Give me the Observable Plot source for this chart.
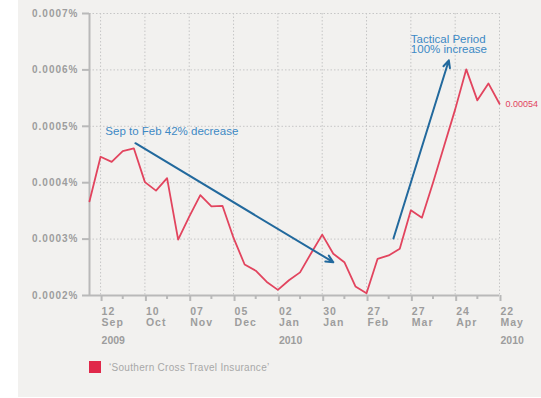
<!DOCTYPE html>
<html>
<head>
<meta charset="utf-8">
<script src="https://cdn.jsdelivr.net/npm/d3@7"></script>
<script src="https://cdn.jsdelivr.net/npm/@observablehq/plot@0.6"></script>
<style>
  html, body { margin: 0; padding: 0; background: #fff; }
  #wrap { position: relative; width: 541px; height: 398px; overflow: hidden; background: #fff; }
  #panel { position: absolute; left: 18px; top: 0; width: 523px; height: 397px; background: #f2f1ef; }
  #chart { position: absolute; left: 0; top: 0; }
  #legend { position: absolute; left: 89px; top: 361px; display: flex; align-items: center;
            font-family: "Liberation Sans", Arial, sans-serif; font-size: 10px; color: #a8a8a8; letter-spacing: 0.3px; }
  #legend .swatch { width: 12px; height: 12px; background: #e0284a; margin-right: 8px; }
</style>
</head>
<body>
<div id="wrap">
  <div id="panel"></div>
  <div id="chart"></div>
  <div id="legend"><span class="swatch"></span><span>‘Southern Cross Travel Insurance’</span></div>
</div>
<script>
// Weekly share (%) for Southern Cross Travel Insurance, Sep 2009 – May 2010
const weeks = [
  "2009-09-05", "2009-09-12", "2009-09-19", "2009-09-26",
  "2009-10-03", "2009-10-10", "2009-10-17", "2009-10-24", "2009-10-31",
  "2009-11-07", "2009-11-14", "2009-11-21", "2009-11-28",
  "2009-12-05", "2009-12-12", "2009-12-19", "2009-12-26",
  "2010-01-02", "2010-01-09", "2010-01-16", "2010-01-23", "2010-01-30",
  "2010-02-06", "2010-02-13", "2010-02-20", "2010-02-27",
  "2010-03-06", "2010-03-13", "2010-03-20", "2010-03-27",
  "2010-04-03", "2010-04-10", "2010-04-17", "2010-04-24",
  "2010-05-01", "2010-05-08", "2010-05-15", "2010-05-22"
];
const share = [
  0.000367, 0.000446, 0.000437, 0.000456,
  0.000461, 0.000401, 0.000386, 0.000408, 0.000299,
  0.000340, 0.000378, 0.000358, 0.000359,
  0.000302, 0.000255, 0.000244, 0.000224,
  0.000210, 0.000227, 0.000241, 0.000275, 0.000308,
  0.000274, 0.000259, 0.000216, 0.000204,
  0.000265, 0.000271, 0.000283, 0.000351,
  0.000338, 0.000400, 0.000465, 0.000530,
  0.000601, 0.000546, 0.000576, 0.00054
];

// Axis ticks
const xDomain = ["2009-09-05", "2010-05-22"];
const majorTicks = ["2009-09-12", "2009-10-10", "2009-11-07", "2009-12-05", "2010-01-02",
                    "2010-01-30", "2010-02-27", "2010-03-27", "2010-04-24", "2010-05-22"];
const minorTicks = ["2009-09-26", "2009-10-24", "2009-11-21", "2009-12-19", "2010-01-16",
                    "2010-02-13", "2010-03-13", "2010-04-10", "2010-05-08"];
const yTicks = [0.0002, 0.0003, 0.0004, 0.0005, 0.0006, 0.0007];
const yearLabels = ["2009", "2010", "2010"];
const yearDates = ["2009-09-12", "2010-01-02", "2010-05-22"];

// Annotations
const noteTexts = ["Sep to Feb 42% decrease", "Tactical Period\n100% increase"];
const noteDates = ["2009-09-15", "2010-03-27"];
const noteValues = [0.000491, 0.000645];
const arrowStartDates = ["2009-10-04", "2010-03-16"];
const arrowStartValues = [0.00047, 0.000301];
const arrowEndDates = ["2010-02-06", "2010-04-20"];
const arrowEndValues = [0.000259, 0.000617];

const parse = d3.utcParse("%Y-%m-%d");
const series = weeks.map((w, i) => ({date: parse(w), value: share[i]}));
const notes = noteTexts.map((t, i) => ({text: t, date: parse(noteDates[i]), value: noteValues[i]}));
const arrows = arrowStartDates.map((d, i) => ({
  x1: parse(d), y1: arrowStartValues[i], x2: parse(arrowEndDates[i]), y2: arrowEndValues[i]
}));
const years = yearLabels.map((t, i) => ({text: t, date: parse(yearDates[i])}));
const majors = majorTicks.map(parse);
const minors = minorTicks.map(parse);
const last = series[series.length - 1];

const lineRed = "#e2445e";
const axisGray = "#b9b9b9";
const labelGray = "#9d9d9d";
const gridGray = "#c6c6c6";
const fmtDay = d3.utcFormat("%d");
const fmtMon = d3.utcFormat("%b");

const chart = Plot.plot({
  width: 541,
  height: 352,
  marginLeft: 89,
  marginRight: 42,
  marginTop: 13,
  marginBottom: 57,
  style: {background: "transparent", fontFamily: "'Liberation Sans', Arial, sans-serif"},
  x: {type: "utc", domain: xDomain.map(parse)},
  y: {domain: [0.0002, 0.0007]},
  marks: [
    Plot.gridY(yTicks.slice(1), {stroke: gridGray, strokeOpacity: 1, strokeDasharray: "1.5,2"}),
    Plot.gridX(majors, {stroke: gridGray, strokeOpacity: 1, strokeDasharray: "1.5,2"}),
    Plot.ruleX([parse(xDomain[0])], {stroke: axisGray, strokeWidth: 2}),
    Plot.ruleY([0.0002], {stroke: axisGray, strokeWidth: 2}),
    Plot.axisY(yTicks, {
      tickSize: 7, tickPadding: 4, stroke: axisGray, strokeWidth: 2,
      fill: labelGray, fontSize: 10, fontWeight: "bold",
      tickFormat: d => d.toFixed(4) + "%", label: null
    }),
    Plot.axisX(majors, {
      tickSize: 6, tickPadding: 5, stroke: axisGray, strokeWidth: 2,
      fill: labelGray, fontSize: 10.5, fontWeight: "bold", lineHeight: 1.1,
      textAnchor: "start", dx: 1,
      tickFormat: d => fmtDay(d) + "\n" + fmtMon(d), label: null
    }),
    Plot.axisX(minors, {
      tickSize: 4, stroke: axisGray, strokeWidth: 2, tickFormat: () => "", label: null
    }),
    Plot.text(years, {
      x: "date", y: () => 0.0002, text: "text", dy: 45, dx: 1, textAnchor: "start",
      fill: labelGray, fontSize: 10.5, fontWeight: "bold"
    }),
    Plot.lineY(series, {x: "date", y: "value", stroke: lineRed, strokeWidth: 1.8}),
    Plot.text([last], {
      x: "date", y: "value", text: d => String(d.value), dx: 6, textAnchor: "start",
      fill: lineRed, fontSize: 9
    }),
    Plot.arrow(arrows, {
      x1: "x1", y1: "y1", x2: "x2", y2: "y2",
      stroke: "#22699d", strokeWidth: 2, headLength: 6, headAngle: 50
    }),
    Plot.text(notes, {
      x: "date", y: "value", text: "text", textAnchor: "start", lineAnchor: "middle",
      fill: "#3d89c5", fontSize: 11.5, lineHeight: 0.95
    })
  ]
});

// Slightly spaced lettering for the axis labels
d3.select(chart).selectAll('g[aria-label$="tick label"] text')
  .attr("letter-spacing", "1");

document.getElementById("chart").appendChild(chart);
</script>
</body>
</html>
